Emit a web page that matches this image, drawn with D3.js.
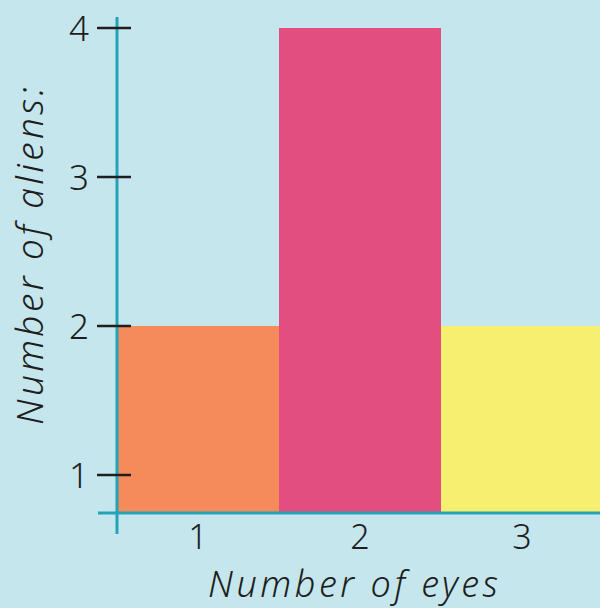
<!DOCTYPE html>
<html>
<head>
<script src="https://cdn.jsdelivr.net/npm/d3@7"></script>
<style>
  html, body { margin: 0; padding: 0; background: #c4e6ec; }
  svg { display: block; }
</style>
</head>
<body>
<div id="chart"></div>
<script>
// data
const EYES = ["1", "2", "3"];
const ALIENS = [2, 4, 2];
const BAR_COLORS = ["#f58a5a", "#e34e80", "#f7ef70"];
const Y_TICKS = [1, 2, 3, 4];

const WIDTH = 600, HEIGHT = 608;
const FONT = "'Noto Sans', sans-serif";
const AXIS_COLOR = "#23a3b5";
const INK = "#1e1e1e";

const svg = d3.select("#chart").append("svg")
  .attr("width", WIDTH)
  .attr("height", HEIGHT);

svg.append("rect").attr("width", WIDTH).attr("height", HEIGHT).attr("fill", "#c4e6ec");

// the axes cross a bit below 1, not at 0
const x = d3.scaleBand().domain(EYES).range([117, 603]).padding(0);
const y = d3.scaleLinear().domain([0.745, 4]).range([513, 28]);

// bars
svg.append("g")
  .selectAll("rect")
  .data(EYES)
  .join("rect")
  .attr("x", d => x(d))
  .attr("width", x.bandwidth())
  .attr("y", (d, i) => y(ALIENS[i]))
  .attr("height", (d, i) => y(0.745) - y(ALIENS[i]))
  .attr("fill", (d, i) => BAR_COLORS[i]);

// axis lines
svg.append("line")
  .attr("x1", 98).attr("x2", WIDTH)
  .attr("y1", y(0.745)).attr("y2", y(0.745))
  .attr("stroke", AXIS_COLOR).attr("stroke-width", 3);
svg.append("line")
  .attr("x1", 117).attr("x2", 117)
  .attr("y1", 17).attr("y2", 534)
  .attr("stroke", AXIS_COLOR).attr("stroke-width", 3);

// y ticks
const yt = svg.append("g").selectAll("g").data(Y_TICKS).join("g")
  .attr("transform", d => `translate(0,${y(d)})`);
yt.append("line")
  .attr("x1", 97).attr("x2", 131)
  .attr("stroke", INK).attr("stroke-width", 2.5);
yt.append("text")
  .attr("x", 89).attr("dy", "0.36em")
  .attr("text-anchor", "end")
  .attr("font-family", FONT).attr("font-weight", 300)
  .attr("font-size", 35).attr("fill", INK)
  .text(d => d);

// x tick labels
svg.append("g").selectAll("text").data(EYES).join("text")
  .attr("x", d => x(d) + x.bandwidth() / 2)
  .attr("y", 549)
  .attr("text-anchor", "middle")
  .attr("font-family", FONT).attr("font-weight", 300)
  .attr("font-size", 34).attr("fill", INK)
  .text(d => d);

// axis titles
svg.append("text")
  .attr("x", 208).attr("y", 597)
  .attr("font-family", FONT).attr("font-weight", 300).attr("font-style", "italic")
  .attr("font-size", 36).attr("fill", INK)
  .attr("textLength", 290).attr("lengthAdjust", "spacing")
  .text("Number of eyes");

svg.append("text")
  .attr("transform", "translate(43,425) rotate(-90)")
  .attr("font-family", FONT).attr("font-weight", 300).attr("font-style", "italic")
  .attr("font-size", 37).attr("fill", INK)
  .attr("textLength", 338).attr("lengthAdjust", "spacing")
  .text("Number of aliens:");
</script>
</body>
</html>
